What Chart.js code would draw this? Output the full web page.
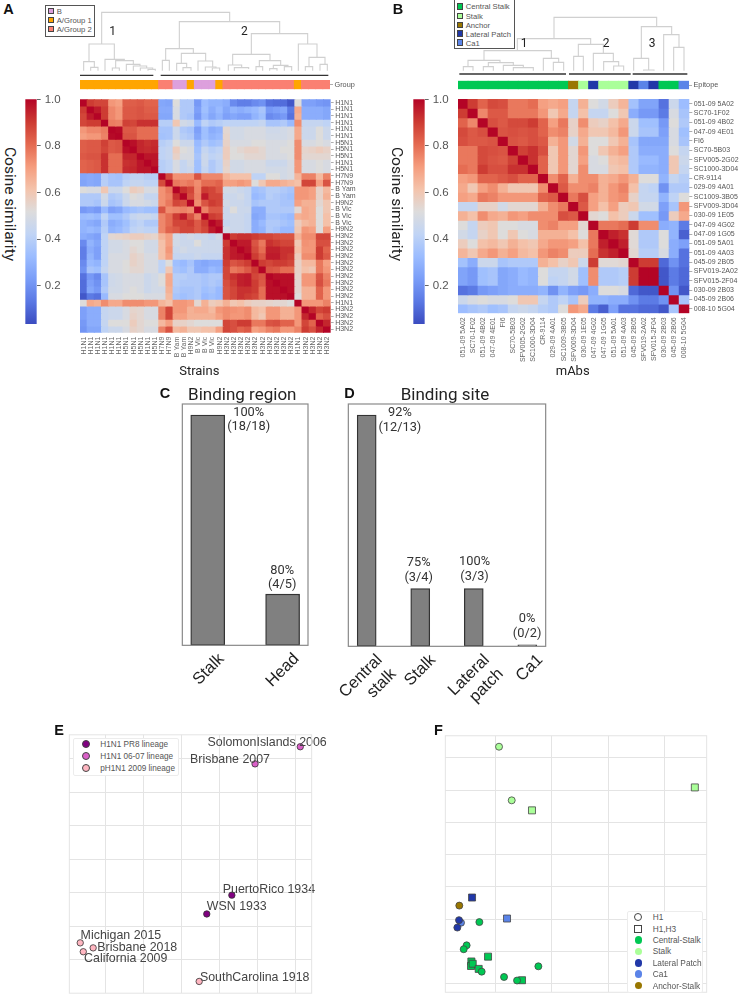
<!DOCTYPE html>
<html><head><meta charset="utf-8">
<style>
html,body{margin:0;padding:0;background:#fff;width:739px;height:998px;overflow:hidden}
#page{position:relative;width:739px;height:998px;overflow:hidden}
canvas{position:absolute}
.t{position:absolute;white-space:nowrap;line-height:1}
.lg{position:absolute;background:#fff;box-sizing:border-box}
</style>
<script src="https://cdn.jsdelivr.net/npm/chart.js@4/dist/chart.umd.min.js"></script>
</head><body><div id="page"></div>
<script>
// ---------- Panel A data ----------
const strainsA = ['H1N1','H1N1','H1N1','H1N1','H1N1','H1N1','H5N1','H5N1','H5N1','H1N1','H5N1','H7N9','H7N9','B Yam','B Yam','H9N2','B Vic','B Vic','B Vic','H9N2','H3N2','H3N2','H3N2','H3N2','H3N2','H3N2','H3N2','H3N2','H3N2','H3N2','H1N1','H3N2','H3N2','H3N2','H3N2'];
const groupA = ['G1','G1','G1','G1','G1','G1','G1','G1','G1','G1','G1','G2','G2','B','B','G1','B','B','B','G1','G2','G2','G2','G2','G2','G2','G2','G2','G2','G2','G1','G2','G2','G2','G2'];
// similarity x 100, upper triangle, each row starts on the diagonal
const simA = [
[100,90,88,88,72,70,83,83,84,82,82,26,25,52,38,38,22,33,30,30,28,18,15,15,18,20,12,11,11,6,52,24,24,22,21],
[100,96,90,75,72,84,84,85,83,83,27,27,50,38,38,24,34,28,32,26,30,28,30,32,36,22,24,26,14,68,28,28,28,26],
[100,90,75,72,84,84,85,84,84,26,26,50,38,36,22,32,26,30,24,26,24,24,30,34,18,20,22,12,66,28,28,28,26],
[100,77,76,89,88,92,92,92,40,40,60,48,46,32,42,38,40,42,42,42,42,42,44,36,36,38,32,74,44,44,44,42],
[100,99,84,84,80,80,80,36,36,46,38,36,24,34,28,30,54,48,48,50,50,50,47,47,48,50,68,46,46,52,46],
[100,85,85,80,80,80,35,36,46,40,38,26,34,30,32,55,48,48,50,50,50,48,48,48,50,68,46,46,52,46],
[100,98,94,92,93,40,42,52,46,46,32,38,34,36,56,50,50,50,52,52,50,50,50,52,74,50,50,52,50],
[100,94,93,94,42,44,58,52,50,34,44,40,42,58,52,54,56,56,54,50,50,52,52,74,55,56,58,56],
[100,97,97,42,44,56,50,50,36,46,42,44,58,52,52,54,54,54,50,50,50,52,74,54,54,54,54],
[100,97,40,42,50,44,48,34,46,38,42,56,48,48,50,50,50,46,46,46,50,72,50,50,52,50],
[100,40,42,50,44,46,34,44,38,42,55,48,48,50,50,50,48,48,48,50,72,50,50,52,50],
[100,87,73,73,73,85,75,75,75,65,62,62,62,42,42,52,52,48,50,65,76,76,64,76],
[100,78,76,78,74,80,80,82,70,70,72,70,52,60,68,68,66,64,62,88,88,70,85],
[100,92,88,75,90,88,84,48,48,46,44,34,36,40,40,38,36,72,72,70,56,64],
[100,86,76,96,88,88,46,46,48,44,32,34,40,38,36,34,72,72,70,56,66],
[100,74,85,90,88,48,46,46,44,36,38,38,38,36,36,70,66,66,54,60],
[100,76,84,84,46,52,46,46,28,28,38,38,38,38,54,68,66,52,60],
[100,90,88,46,46,46,44,26,28,36,36,34,32,66,68,66,52,62],
[100,96,44,46,46,44,28,32,38,38,36,34,58,64,66,52,62],
[100,48,46,46,44,28,30,38,36,32,32,60,72,70,52,70],
[100,90,92,92,90,88,88,86,85,85,66,74,74,88,88],
[100,96,96,85,78,92,90,88,88,60,73,72,86,86],
[100,97,87,80,95,95,92,92,62,72,72,90,82],
[100,90,84,96,96,92,90,58,74,74,90,84],
[100,90,88,90,90,88,56,64,64,78,70],
[100,85,84,80,80,56,62,60,78,72],
[100,98,98,98,55,72,72,85,76],
[100,98,98,54,72,72,86,78],
[100,98,54,66,66,82,72],
[100,52,66,66,82,72],
[100,72,72,72,76],
[100,94,88,90],
[100,82,86],
[100,94],
[100]];
// dendrogram A, read in figure units: [leftX, rightX, leftBottom, rightBottom, top]
const dendroA = [
[305,689,132,65,37],[267,343,185,178,132],[251,283,212,202,185],[272,294,212,212,202],
[315,373,212,182,178],[347,400,204,193,182],[337,358,212,212,204],[379,420,212,198,193],
[400,440,212,204,198],[421,458,212,208,204],[444,466,212,212,208],
[538,839,146,101,65],[497,580,181,160,146],[487,508,212,212,181],[544,617,190,183,160],
[530,560,212,203,190],[549,573,212,212,203],[594,638,212,201,183],[616,648,212,204,201],[637,659,212,212,204],
[754,923,163,132,101],[698,810,195,182,163],[685,725,212,203,195],[703,746,212,207,203],
[778,842,200,196,182],[768,788,212,212,200],[820,864,206,200,196],[809,831,212,212,206],[853,875,212,212,200],
[895,951,212,172,132],[927,975,200,193,172],[916,938,212,212,200],[960,982,212,212,193]];
const bracketsA = [[240,460,226],[482,985,226]];
const clusterMarksA = [{x:338,y:96,text:'1'},{x:733,y:96,text:'2'}];

// ---------- Panel B data ----------
const mAbs = ['051-09 5A02','SC70-1F02','051-09 4B02','047-09 4E01','FI6','SC70-5B03','SFV005-2G02','SC1000-3D04','CR-9114','029-09 4A01','SC1009-3B05','SFV009-3D04','030-09 1E05','047-09 4G02','047-09 1G05','051-09 5A01','051-09 4A03','045-09 2B05','SFV019-2A02','SFV015-2F04','030-09 2B03','045-09 2B06','008-10 5G04'];
const epitopeB = ['CS','CS','CS','CS','CS','CS','CS','CS','CS','CS','CS','AN','ST','LP','ST','ST','ST','LP','CA','LP','CS','CS','CA'];
const simB = [
[100,90,82,87,86,78,78,80,70,68,70,44,66,52,48,58,65,35,25,25,12,46,33],
[100,75,84,84,78,78,78,72,60,68,44,62,44,44,52,60,28,22,22,14,50,36],
[100,86,84,87,87,90,82,70,78,56,74,58,56,62,68,46,34,34,22,52,38],
[100,85,86,85,86,82,74,76,56,68,60,60,64,72,46,36,36,24,50,34],
[100,85,84,86,84,66,72,48,66,52,52,60,66,36,26,26,26,50,36],
[100,89,92,86,60,72,54,72,52,60,66,70,38,28,28,28,52,44],
[100,92,82,60,72,54,70,50,52,62,64,38,32,32,28,60,46],
[100,82,60,72,54,74,50,50,60,62,38,30,30,28,60,44],
[100,74,82,66,74,74,66,68,72,66,52,52,30,44,40],
[100,84,74,74,76,66,72,76,62,44,42,20,38,38],
[100,78,86,70,66,72,74,56,44,44,30,42,52],
[100,84,70,62,70,58,60,48,48,24,36,72],
[100,54,52,62,58,46,34,34,22,58,68],
[100,78,78,80,90,74,74,28,30,14],
[100,95,92,53,38,38,52,30,8],
[100,95,53,38,38,52,28,24],
[100,54,40,40,50,28,12],
[100,90,90,10,20,12],
[100,100,6,14,10],
[100,6,14,10],
[100,20,6],
[100,36],
[100]];
const dendroB = [
[522,830,116,80,52],[412,632,152,133,116],[312,514,181,175,152],[264,360,200,188,181],[250,279,212,212,200],
[325,400,200,196,188],[310,340,212,212,200],[370,430,212,203,196],[400,460,212,212,203],
[490,536,212,187,175],[520,551,212,212,187],[595,670,169,160,133],[581,610,212,212,169],
[640,700,212,185,160],[671,716,212,198,185],[701,731,212,212,198],
[784,875,175,104,80],[761,806,212,210,175],[791,822,212,212,210],[851,897,212,142,104],[881,912,212,212,142]];
const bracketsB = [[238,558,222],[567,752,222],[758,922,222]];
const clusterMarksB = [{x:432,y:132,text:'1'},{x:678,y:132,text:'2'},{x:816,y:132,text:'3'}];

// ---------- Panels C, D data ----------
const regionLabels = ['Stalk','Head'];
const regionCounts = [18,4];
const regionText = [{x:0.547,y:18.16,text:'100%'},{x:0.547,y:17.07,text:'(18/18)'},{x:0.995,y:5.83,text:'80%'},{x:0.995,y:4.71,text:'(4/5)'}];
const siteLabels = [['Central','stalk'],'Stalk',['Lateral','patch'],'Ca1'];
const siteCounts = [12,3,3,0];
const siteText = [{x:0.62,y:12.1,text:'92%'},{x:0.62,y:11.33,text:'(12/13)'},{x:0.97,y:4.32,text:'75%'},{x:0.97,y:3.54,text:'(3/4)'},{x:2.015,y:4.37,text:'100%'},{x:2.015,y:3.6,text:'(3/3)'},{x:2.996,y:1.42,text:'0%'},{x:2.996,y:0.64,text:'(0/2)'}];

// ---------- Panel E data ----------
const strainsE = ['SolomonIslands 2006','Brisbane 2007','PuertoRico 1934','WSN 1933','Michigan 2015','Brisbane 2018','California 2009','SouthCarolina 1918'];
const xE = [5.13,3.94,3.33,2.67,-0.66,-0.32,-0.58,2.47];
const yE = [6.35,5.84,1.93,1.37,0.51,0.36,0.245,-0.64];
const lineageE = ['H1N1 06-07 lineage','H1N1 06-07 lineage','H1N1 PR8 lineage','H1N1 PR8 lineage','pH1N1 2009 lineage','pH1N1 2009 lineage','pH1N1 2009 lineage','pH1N1 2009 lineage'];
const labelXE = [2.69,2.23,3.09,2.67,-0.65,-0.21,-0.56,2.49];
const labelYE = [6.47,5.96,2.11,1.60,0.73,0.38,0.05,-0.53];
const gridXE = [0,1,2,3,4,5];
const gridYE = [0,1,2,3,4,5,6];

// ---------- Panel F data ----------
const xF = [0.065,0.29,-0.64,-0.61,-0.645,-0.675,-0.284,-0.51,-0.562,-0.243,0.154,0.385,0.763,0.65,3.54,-0.414,-0.13,-0.426,-0.432,-0.402,-0.296,0.473,0.207];
const yF = [7.34,5.68,2.42,1.89,1.97,1.74,1.91,1.19,1.07,0.375,0.21,0.10,0.54,5.37,6.08,2.67,0.84,0.69,0.55,0.62,0.46,0.11,2.02];
const epitopeF = ['Stalk','Stalk','Anchor-Stalk','Ca1','Lateral Patch','Lateral Patch','Central-Stalk','Central-Stalk','Central-Stalk','Central-Stalk','Central-Stalk','Central-Stalk','Central-Stalk','Stalk','Stalk','Lateral Patch','Central-Stalk','Central-Stalk','Central-Stalk','Central-Stalk','Central-Stalk','Central-Stalk','Ca1'];
const bindF = ['H1','H1','H1','H1','H1','H1','H1','H1','H1','H1','H1','H1','H1','H1,H3','H1,H3','H1,H3','H1,H3','H1,H3','H1,H3','H1,H3','H1,H3','H1,H3','H1,H3'];
const gridXF = [0,1,2,3];
const gridYF = [0,1,2,3,4,5,6,7];

// ---------- Styles ----------
const SANS = '"Liberation Sans",Arial,sans-serif', ROBOTO = 'Roboto,sans-serif';
const GROUP_COL = {B:'#DDA0DD',G1:'#FFA500',G2:'#FA8072'};
const EPI_COL = {CS:'#00C853',ST:'#AAFF99',AN:'#997700',LP:'#2138A8',CA:'#5B84E8'};
const LINEAGE_COL = {'H1N1 PR8 lineage':'#800080','H1N1 06-07 lineage':'#DA60C8','pH1N1 2009 lineage':'#FFB6C1'};
const EPI_F_COL = {'Central-Stalk':'#00C853','Stalk':'#AAFF99','Lateral Patch':'#2138A8','Ca1':'#5B84E8','Anchor-Stalk':'#997700'};
const CW = [[59,76,192],[90,120,228],[122,157,248],[155,188,255],[192,212,245],[221,220,220],[244,195,171],[245,156,125],[228,105,80],[204,58,50],[180,4,38]];
const VMIN = 0.037;
function cool(v){
  const t = Math.max(0,Math.min(1,(v-VMIN)/(1-VMIN)))*10, i = Math.min(9,Math.floor(t)), f = t-i;
  const c = CW[i].map((a,k)=>Math.round(a+(CW[i+1][k]-a)*f));
  return `rgb(${c[0]},${c[1]},${c[2]})`;
}
// ---------- Helpers ----------
Chart.defaults.animation = false;
Chart.defaults.plugins.legend.display = false;
Chart.defaults.plugins.tooltip.enabled = false;
Chart.defaults.font.family = SANS;
const page = document.getElementById('page');
const marksPlugin = {id:'marks',afterDatasetsDraw(c,_a,o){
  if(!o.items) return; const g=c.ctx; g.save();
  g.font=o.font; g.fillStyle=o.color; g.textBaseline='middle'; g.textAlign=o.align||'center';
  o.items.forEach(m=>g.fillText(m.text,c.scales.x.getPixelForValue(m.x),c.scales.y.getPixelForValue(m.y)));
  g.restore();
}};
const framePlugin = {id:'frame',afterDatasetsDraw(c,_a,o){
  if(!o.color) return; const g=c.ctx,a=c.chartArea; g.save();
  g.strokeStyle=o.color; g.lineWidth=o.width||1; g.strokeRect(a.left,a.top,a.right-a.left,a.bottom-a.top); g.restore();
}};
Chart.register(marksPlugin,framePlugin);
function fit(size){return s=>{ if(s.isHorizontal()) s.height=size; else s.width=size; s.paddingLeft=s.paddingRight=s.paddingTop=s.paddingBottom=0; };}
function mount(box,cfg){
  const c=document.createElement('canvas'); c.width=box.w; c.height=box.h;
  c.style.cssText=`left:${box.x}px;top:${box.y}px;width:${box.w}px;height:${box.h}px`;
  page.appendChild(c);
  cfg.options=Object.assign({responsive:false,maintainAspectRatio:false,devicePixelRatio:1},cfg.options);
  return new Chart(c,cfg);
}
function txt(s,cx,cy,font,color,rot){
  const d=document.createElement('div'); d.className='t'; d.textContent=s;
  d.style.cssText=`left:${cx}px;top:${cy}px;font:${font};color:${color};transform:translate(-50%,-50%)${rot?` rotate(${rot}deg)`:''}`;
  page.appendChild(d);
}
function legendBox(x,y,w,h,css,rows){
  const b=document.createElement('div'); b.className='lg';
  b.style.cssText=`left:${x}px;top:${y}px;width:${w}px;height:${h}px;${css}`; page.appendChild(b);
  rows.forEach(r=>{
    const m=document.createElement('div');
    m.style.cssText=`position:absolute;box-sizing:border-box;left:${r.mx-r.s/2}px;top:${r.y-r.s/2}px;width:${r.s}px;height:${r.s}px;background:${r.c};border:${r.bw||0.8}px solid ${r.b||'#444'};border-radius:${r.round?'50%':'0'}`;
    page.appendChild(m);
    const t=document.createElement('div'); t.className='t'; t.textContent=r.t;
    t.style.cssText=`left:${r.tx}px;top:${r.y}px;font:${r.f};color:${r.tc||'#555'};transform:translateY(-50%)`;
    page.appendChild(t);
  });
}
function expand(tri){
  const n=tri.length, m=[...Array(n)].map(()=>Array(n).fill(0));
  tri.forEach((row,i)=>row.forEach((v,k)=>{m[i][i+k]=v/100;m[i+k][i]=v/100;}));
  return m;
}
function heat(box,pad,bottomH,rightW,labels,tri){
  const m=expand(tri), n=labels.length;
  mount(box,{type:'bar',data:{labels,datasets:m.map((row,r)=>({label:labels[r],data:row.map(()=>[r,r+1]),backgroundColor:row.map(cool),borderWidth:0,barPercentage:1,categoryPercentage:1,grouped:false,inflateAmount:0.5}))},
  options:{layout:{padding:pad},scales:{
    x:{type:'category',afterFit:fit(bottomH),grid:{drawOnChartArea:false,drawTicks:false},border:{display:false},ticks:{autoSkip:false,minRotation:90,maxRotation:90,padding:4,font:{size:7},color:'#666'}},
    y:{min:0,max:n,reverse:true,display:false},
    yR:{type:'category',labels,position:'right',offset:true,afterFit:fit(rightW),grid:{drawOnChartArea:false,tickLength:3,tickColor:'#999',tickWidth:0.8},border:{display:false},ticks:{autoSkip:false,padding:1.5,font:{size:7},color:'#555'}}
  }}});
}
function strip(box,pad,rightW,codes,colors,name){
  mount(box,{type:'bar',data:{labels:codes,datasets:[{label:name,data:codes.map(()=>[0,1]),backgroundColor:codes.map(c=>colors[c]),borderWidth:0,barPercentage:1,categoryPercentage:1,inflateAmount:0.4}]},
  options:{layout:{padding:pad},scales:{
    x:{display:false},y:{min:0,max:1,display:false},
    yR:{type:'category',labels:[name],position:'right',offset:true,afterFit:fit(rightW),grid:{drawOnChartArea:false,tickLength:3,tickColor:'#999',tickWidth:0.8},border:{display:false},ticks:{padding:1.5,font:{size:7.3},color:'#555'}}
  }}});
}
function dendro(box,pad,xMin,xMax,links,brackets,marks){
  const ds=links.map(([a,b,ha,hb,t])=>({data:[{x:a,y:ha},{x:a,y:t},{x:b,y:t},{x:b,y:hb}],showLine:true,pointRadius:0,borderColor:'#d0d0d0',borderWidth:1.1,tension:0}))
   .concat(brackets.map(([a,b,h])=>({data:[{x:a,y:h},{x:b,y:h}],showLine:true,pointRadius:0,borderColor:'#333',borderWidth:1.3})));
  mount(box,{type:'scatter',data:{datasets:ds},options:{layout:{padding:pad},scales:{
    x:{type:'linear',min:xMin,max:xMax,display:false},y:{type:'linear',min:0,max:232,reverse:true,display:false}},
    plugins:{marks:{items:marks,font:'12px '+ROBOTO,color:'#222'}}}});
}
function colorbar(box,pad,rightW){
  mount(box,{type:'bar',data:{labels:['Cosine similarity'],datasets:[{label:'Cosine similarity',data:[[VMIN,1]],barPercentage:1,categoryPercentage:1,borderWidth:0,
    backgroundColor(ctx){const a=ctx.chart.chartArea; if(!a) return '#ccc';
      const g=ctx.chart.ctx.createLinearGradient(0,a.bottom,0,a.top); CW.forEach((c,i)=>g.addColorStop(i/10,`rgb(${c})`)); return g;}}]},
  options:{layout:{padding:pad},scales:{
    x:{display:false},
    y:{position:'right',min:VMIN,max:1,afterFit:fit(rightW),afterBuildTicks(a){a.ticks=[0.2,0.4,0.6,0.8,1].map(value=>({value}));},
      grid:{drawOnChartArea:false,tickLength:4,tickColor:'#666',tickWidth:1},border:{display:false},
      ticks:{padding:4,font:{size:11.5},color:'#555',callback:v=>v.toFixed(1)}}
  }}});
}
function bars(box,pad,bottomH,xMin,xMax,yMax,thick,labels,counts,marks,labelOff,labelPad){
  mount(box,{type:'bar',data:{datasets:[{label:'Count',data:counts.map((y,x)=>({x,y})),backgroundColor:'#808080',borderColor:'#333',borderWidth:1.3,borderSkipped:false,barThickness:thick,minBarLength:1.5}]},
  options:{layout:{padding:pad},scales:{
    x:{type:'linear',offset:false,min:xMin,max:xMax,afterFit:fit(bottomH),afterBuildTicks(a){a.ticks=labels.map((_,value)=>({value}));},
      grid:{offset:false,drawOnChartArea:false,drawTicks:false},border:{display:false},
      ticks:{minRotation:45,maxRotation:45,autoSkip:false,labelOffset:labelOff,padding:labelPad,font:{family:SANS,size:16.5},color:'#222',callback:v=>labels[v]}},
    y:{min:0,max:yMax,display:false}},
    plugins:{marks:{items:marks,font:'12.8px '+ROBOTO,color:'#333'},frame:{color:'#8a8a8a',width:1.2}}}});
}
function gridOpt(min,max,ticks){return {type:'linear',min,max,afterFit:fit(0),afterBuildTicks(a){a.ticks=ticks.map(value=>({value}));},
  grid:{color:'#e4e4e4',lineWidth:1,drawTicks:false},border:{display:false},ticks:{display:false}};}

// ---------- Panel A ----------
dendro({x:80,y:0,w:250,h:78},{left:0,top:0,right:0,bottom:0.67},240,990,dendroA,bracketsA,clusterMarksA);
strip({x:78,y:78,w:292,h:14},{left:2,top:2,right:0,bottom:2.7},40,groupA,GROUP_COL,'Group');
heat({x:78,y:97,w:292,h:270},{left:2,top:2.33,right:0,bottom:0},34.33,39.33,strainsA,simA);
colorbar({x:24,y:90,w:46,h:240},{left:1.33,top:9.33,right:0,bottom:6},33.33);
txt('Cosine similarity',10,204,'15.5px '+ROBOTO,'#222',90);
txt('Strains',199.3,370,'13px '+ROBOTO,'#222');
legendBox(44.5,4.5,50,32,'border:1.4px solid #555',[
 {t:'B',c:GROUP_COL.B,y:11,mx:51.3,s:6.4,tx:56.7,f:'7.7px '+SANS},
 {t:'A/Group 1',c:GROUP_COL.G1,y:20.3,mx:51.3,s:6.4,tx:56.7,f:'7.7px '+SANS},
 {t:'A/Group 2',c:GROUP_COL.G2,y:29.3,mx:51.3,s:6.4,tx:56.7,f:'7.7px '+SANS}]);

// ---------- Panel B ----------
dendro({x:458,y:0,w:231,h:78},{left:0,top:0,right:0,bottom:0.67},234,927,dendroB,bracketsB,clusterMarksB);
strip({x:456,y:78,w:283,h:14},{left:2,top:2.7,right:0,bottom:2.7},50,epitopeB,EPI_COL,'Epitope');
heat({x:456,y:97,w:283,h:265},{left:2,top:2,right:0,bottom:0},48.67,49.67,mAbs,simB);
colorbar({x:412,y:90,w:46,h:240},{left:1.33,top:9.33,right:0,bottom:6},33.33);
txt('Cosine similarity',397,204,'15.5px '+ROBOTO,'#222',90);
txt('mAbs',572.7,370,'13px '+ROBOTO,'#222');
legendBox(453.5,-1,61,49.5,'border:1.4px solid #555',[
 {t:'Central Stalk',c:EPI_COL.CS,y:6.3,mx:460,s:6.6,tx:465.7,f:'7.7px '+SANS},
 {t:'Stalk',c:EPI_COL.ST,y:16,mx:460,s:6.6,tx:465.7,f:'7.7px '+SANS},
 {t:'Anchor',c:EPI_COL.AN,y:25,mx:460,s:6.6,tx:465.7,f:'7.7px '+SANS},
 {t:'Lateral Patch',c:EPI_COL.LP,y:33.7,mx:460,s:6.6,tx:465.7,f:'7.7px '+SANS},
 {t:'Ca1',c:EPI_COL.CA,y:42.7,mx:460,s:6.6,tx:465.7,f:'7.7px '+SANS}]);

// ---------- Panels C, D ----------
bars({x:170,y:400,w:160,h:300},{left:12.33,top:4,right:22,bottom:0},54.67,-0.339,1.339,18.87,34,regionLabels,regionCounts,regionText,14,4);
bars({x:335,y:400,w:225,h:320},{left:13.33,top:4,right:14.33,bottom:0},73.67,-0.343,3.343,12.57,19,siteLabels,siteCounts,siteText,13,4);
txt('Binding region',242.3,394,'17px '+ROBOTO,'#222');
txt('Binding site',445,394,'17px '+ROBOTO,'#222');

// ---------- Panel E ----------
mount({x:60,y:730,w:280,h:268},{type:'scatter',data:{datasets:Object.keys(LINEAGE_COL).map(l=>({label:l,
   data:xE.map((x,i)=>({x,y:yE[i],l:lineageE[i]})).filter(p=>p.l===l),backgroundColor:LINEAGE_COL[l],borderColor:'#333',borderWidth:0.8,pointRadius:3.2}))},
 options:{layout:{padding:{left:9.33,top:3.33,right:28.33,bottom:3}},scales:{x:gridOpt(-0.947,5.43,gridXE),y:gridOpt(-0.99,6.706,gridYE)},
  plugins:{frame:{color:'#e4e4e4',width:1},marks:{items:strainsE.map((text,i)=>({text,x:labelXE[i],y:labelYE[i]})),font:'12.4px '+SANS,color:'#444',align:'left'}}}});
legendBox(73.3,737.7,106,38,'border:1px solid #ececec;border-radius:2px',[
 {t:'H1N1 PR8 lineage',c:LINEAGE_COL['H1N1 PR8 lineage'],y:744.3,mx:85.7,s:8,round:1,tx:100.3,f:'8.2px '+SANS},
 {t:'H1N1 06-07 lineage',c:LINEAGE_COL['H1N1 06-07 lineage'],y:755.7,mx:85.7,s:8,round:1,tx:100.3,f:'8.2px '+SANS},
 {t:'pH1N1 2009 lineage',c:LINEAGE_COL['pH1N1 2009 lineage'],y:767.7,mx:85.7,s:8,round:1,tx:100.3,f:'8.2px '+SANS}]);

// ---------- Panel F ----------
const fKeys=[];
['H1','H1,H3'].forEach(b=>Object.keys(EPI_F_COL).forEach(e=>fKeys.push([b,e])));
mount({x:436,y:730,w:300,h:268},{type:'scatter',data:{datasets:fKeys.map(([b,e])=>({label:e+' '+b,
   data:xF.map((x,i)=>({x,y:yF[i],b:bindF[i],e:epitopeF[i]})).filter(p=>p.b===b&&p.e===e),
   backgroundColor:EPI_F_COL[e],borderColor:'#444',borderWidth:0.8,pointStyle:b==='H1'?'circle':'rect',pointRadius:b==='H1'?3.5:4.95}))},
 options:{layout:{padding:{left:9.33,top:5.67,right:29.33,bottom:1}},scales:{x:gridOpt(-0.888,3.75,gridXF),y:gridOpt(-0.263,7.68,gridYF)},
  plugins:{frame:{color:'#e4e4e4',width:1}}}});
const fLegF='8.3px '+SANS;
legendBox(626.7,911,76,82,'border:1px solid #ececec;border-radius:2px',[
 {t:'H1',c:'#fff',y:917.3,mx:638.3,s:8,round:1,b:'#444',bw:1,tx:652.7,f:fLegF},
 {t:'H1,H3',c:'#fff',y:928.7,mx:638.3,s:8,b:'#444',bw:1,tx:652.7,f:fLegF},
 {t:'Central-Stalk',c:EPI_F_COL['Central-Stalk'],b:'transparent',y:940,mx:638.3,s:7.4,round:1,tx:652.7,f:fLegF},
 {t:'Stalk',c:EPI_F_COL['Stalk'],b:'transparent',y:951.3,mx:638.3,s:7.4,round:1,tx:652.7,f:fLegF},
 {t:'Lateral Patch',c:EPI_F_COL['Lateral Patch'],b:'transparent',y:963,mx:638.3,s:7.4,round:1,tx:652.7,f:fLegF},
 {t:'Ca1',c:EPI_F_COL['Ca1'],b:'transparent',y:974,mx:638.3,s:7.4,round:1,tx:652.7,f:fLegF},
 {t:'Anchor-Stalk',c:EPI_F_COL['Anchor-Stalk'],b:'transparent',y:985.7,mx:638.3,s:7.4,round:1,tx:652.7,f:fLegF}]);

// ---------- Panel letters ----------
[['A',8.5,9],['B',398,9],['C',165,393],['D',349.5,393],['E',59,730],['F',438.5,729.5]].forEach(([s,x,y])=>txt(s,x,y,'bold 14.5px '+SANS,'#111'));
</script></body></html>
